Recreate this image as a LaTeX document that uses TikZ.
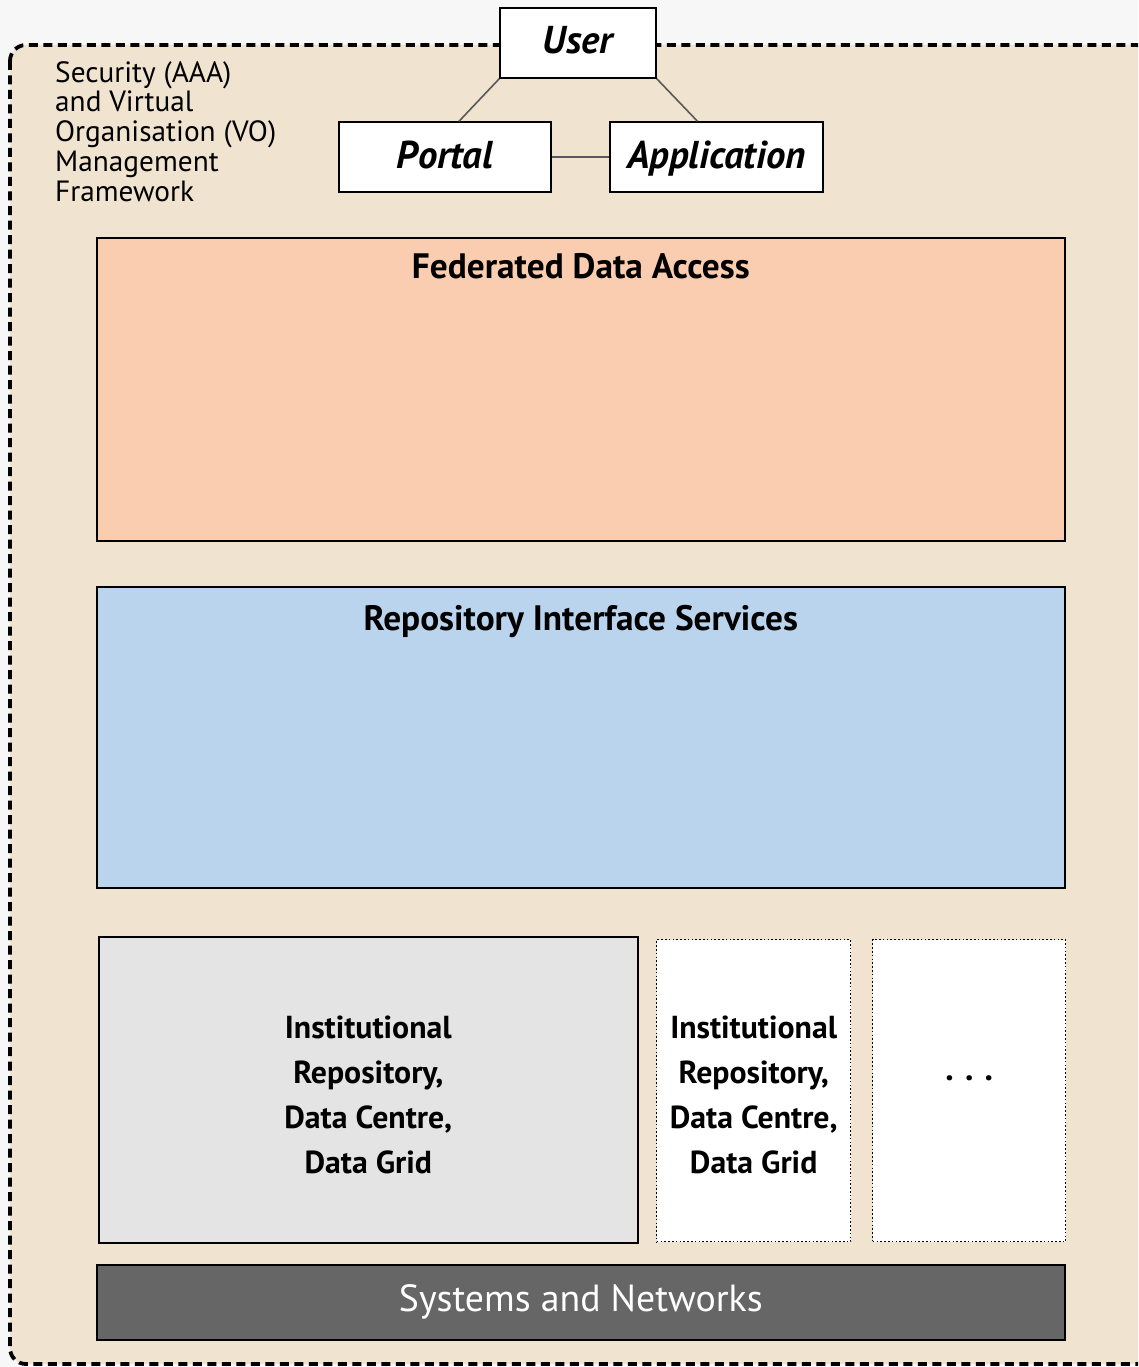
\documentclass[tikz,border=0pt]{standalone}
\usepackage{fontspec}
\setmainfont{PT Sans}
\usetikzlibrary{positioning}

\definecolor{bgout}{HTML}{F7F7F7}
\definecolor{frameFill}{HTML}{F0E4D0}
\definecolor{fedFill}{HTML}{FBCDB0}
\definecolor{repoFill}{HTML}{BAD4EE}
\definecolor{instFill}{HTML}{E4E4E4}
\definecolor{sysFill}{HTML}{666666}

\begin{document}
\begin{tikzpicture}[
  x=1pt, y=-1pt,
  frame/.style={draw, line width=3.8pt, dash pattern=on 9pt off 5.5pt, rounded corners=16pt, fill=frameFill},
  unode/.style={draw, line width=1.4pt, fill=white, inner sep=0pt, text height=28pt, text depth=6pt,
    font=\fontsize{38.8}{38.8}\selectfont\bfseries\itshape},
  layer/.style={draw, line width=1.6pt, anchor=north west, inner sep=0pt},
  dbox/.style={draw, line width=1.4pt, dash pattern=on 1.6pt off 2.2pt, fill=white, anchor=north west, inner sep=0pt},
  ltitle/.style={anchor=base, font=\fontsize{35.3}{35.3}\selectfont\bfseries},
  itext/.style={align=center, font=\fontsize{31.8}{45}\selectfont\bfseries},
  link/.style={draw=black!65, line width=1.6pt}
]
  % page
  \fill[bgout] (0,0) rectangle (1138,1367);
  \clip (0,0) rectangle (1138,1367);

  % dashed management frame
  \draw[frame] (10,45) rectangle (1152,1364);
  \node[anchor=north west, align=left, inner sep=0pt, font=\fontsize{29.3}{29.8}\selectfont]
    (sec) at (55,61) {Security (AAA)\\and Virtual\\Organisation (VO)\\Management\\Framework};

  % access points
  \node[unode, minimum width=156pt, minimum height=70pt] (user) at (578,43) {User};
  \node[unode, minimum width=212pt, minimum height=70pt] (portal) at (445,157) {Portal};
  \node[unode, minimum width=213pt, minimum height=70pt] (app) at (716.5,157) {Application};

  % layers
  \node[layer, fill=fedFill, minimum width=968pt, minimum height=303pt] (fed) at (96,237) {};
  \node[ltitle, yshift=-41pt] (fedt) at (fed.north) {Federated Data Access};
  \node[layer, fill=repoFill, minimum width=968pt, minimum height=301pt] (repo) at (96,586) {};
  \node[ltitle, yshift=-44pt] (repot) at (repo.north) {Repository Interface Services};

  % repositories
  \node[layer, fill=instFill, minimum width=539pt, minimum height=306pt] (inst) at (98,936) {};
  \node[itext, yshift=-5pt] (instt) at (inst.center) {Institutional\\Repository,\\Data Centre,\\Data Grid};
  \node[dbox, minimum width=194pt, minimum height=302pt] (inst2) at (656,939) {};
  \node[itext, yshift=-4pt] (inst2t) at (inst2.center) {Institutional\\Repository,\\Data Centre,\\Data Grid};
  \node[dbox, minimum width=193pt, minimum height=302pt] (more) at (872,939) {};
  \node[anchor=base, yshift=10pt, font=\fontsize{34}{34}\selectfont\bfseries] (moret) at (more.center) {.\,\,.\,\,.};

  % systems
  \node[layer, fill=sysFill, minimum width=968pt, minimum height=75pt] (sys) at (96,1264) {};
  \node[text=white, font=\fontsize{37.8}{37.8}\selectfont] (syst) at (sys.center) {Systems and Networks};

  % links
  \draw[link] (user.south west) -- ([xshift=14pt]portal.north);
  \draw[link] (user.south east) -- ([xshift=-19pt]app.north);
  \draw[link] (portal) -- (app);
\end{tikzpicture}
\end{document}
